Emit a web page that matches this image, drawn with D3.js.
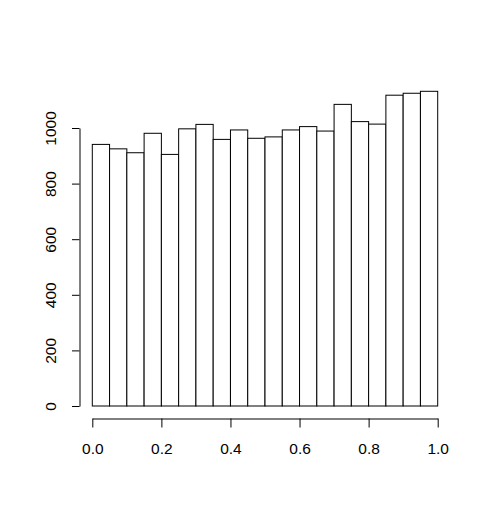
<!DOCTYPE html>
<html lang="en">
<head>
<meta charset="utf-8">
<title>Histogram</title>
<script src="https://d3js.org/d3.v7.min.js"></script>
<style type="text/css">
  body { margin: 0; background: #fff; }
</style>
</head>
<body>
<script type="text/javascript">
// histogram data: 20 bins on [0,1]
var binEdges = [0, 0.05, 0.1, 0.15, 0.2, 0.25, 0.3, 0.35, 0.4, 0.45, 0.5,
                0.55, 0.6, 0.65, 0.7, 0.75, 0.8, 0.85, 0.9, 0.95, 1.0];
var counts = [941, 925, 911, 981, 905, 997, 1013, 959, 993, 963,
              968, 993, 1005, 989, 1085, 1023, 1014, 1118, 1125, 1132];
var xTicks = [0, 0.2, 0.4, 0.6, 0.8, 1.0];
var yTicks = [0, 200, 400, 600, 800, 1000];

var svgWidth = 492, svgHeight = 517;

var svg = d3.select("body").append("svg")
    .attr("width", svgWidth)
    .attr("height", svgHeight);

var x = d3.scaleLinear().domain([0, 1]).range([92.3, 437.7]);
var y = d3.scaleLinear().domain([0, 1000]).range([406, 128]);

var bins = counts.map(function(c, i) {
    return { x0: binEdges[i], x1: binEdges[i + 1], n: c };
});

// bars
svg.selectAll("rect.bar")
    .data(bins)
    .enter().append("rect")
    .attr("class", "bar")
    .attr("x", function(d) { return x(d.x0); })
    .attr("y", function(d) { return y(d.n); })
    .attr("width", function(d) { return x(d.x1) - x(d.x0); })
    .attr("height", function(d) { return y(0) - y(d.n); })
    .style("fill", "#fff")
    .style("stroke", "#000")
    .style("stroke-width", 1);

// x axis
var xAxis = d3.axisBottom(x)
    .tickValues(xTicks)
    .tickFormat(d3.format(".1f"))
    .tickSize(9)
    .tickSizeOuter(0)
    .tickPadding(15);
svg.append("g")
    .attr("transform", "translate(0,418.5)")
    .call(xAxis);

// y axis, labels rotated like R's las=0
var yAxis = d3.axisLeft(y)
    .tickValues(yTicks)
    .tickFormat(d3.format("d"))
    .tickSize(7.5)
    .tickSizeOuter(0);
var gy = svg.append("g")
    .attr("transform", "translate(79.5,0)")
    .call(yAxis);

gy.selectAll(".tick text")
    .attr("transform", "rotate(-90)")
    .attr("x", 0)
    .attr("y", -24)
    .attr("dy", 0)
    .style("text-anchor", "middle");

svg.selectAll(".domain").style("stroke", "#000");
svg.selectAll(".tick line").style("stroke", "#000");
svg.selectAll(".tick text")
    .style("font-family", "'Liberation Sans', Arial, sans-serif")
    .style("font-size", "15.5px")
    .style("fill", "#000");
</script>
</body>
</html>
